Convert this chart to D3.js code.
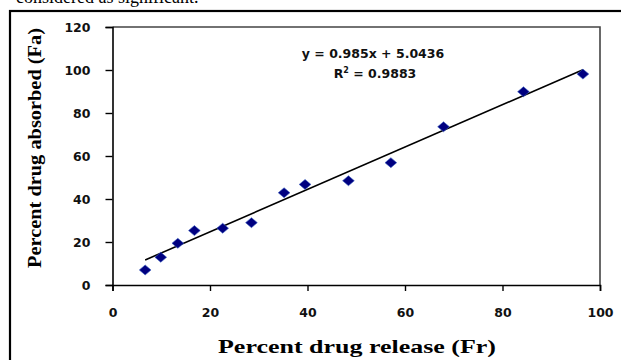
<!DOCTYPE html>
<html>
<head>
<meta charset="utf-8">
<script src="https://cdn.jsdelivr.net/npm/d3@7"></script>
<style>
  body { margin: 0; background: #fff; }
  svg { display: block; }
</style>
</head>
<body>
<svg id="chart" width="621" height="360"></svg>
<script>
// values
const releaseFr  = [6.7, 9.9, 13.4, 16.8, 22.6, 28.5, 35.2, 39.5, 48.4, 57.1, 67.9, 84.3, 96.5];
const absorbedFa = [7.0, 12.9, 19.4, 25.3, 26.4, 29.0, 42.9, 46.8, 48.5, 56.9, 73.6, 89.9, 98.1];
const xTicks = [0, 20, 40, 60, 80, 100];
const yTicks = [0, 20, 40, 60, 80, 100, 120];
const slope = 0.985;
const intercept = 5.0436;
const eqLabel = "y = 0.985x + 5.0436";
const r2Value = "0.9883";

const svg = d3.select("#chart");

const x = d3.scaleLinear().domain([0, 100]).range([112.5, 600]);
const y = d3.scaleLinear().domain([0, 120]).range([285, 27]);

// text cut off at the top of the page, as in the source
svg.append("text")
    .attr("x", 16).attr("y", 3)
    .style("font-family", "Liberation Serif, serif")
    .style("font-size", "18px")
    .text("considered as significant.");

// outer frame (right and bottom run off the page)
svg.append("rect")
    .attr("x", 10).attr("y", 11)
    .attr("width", 640).attr("height", 400)
    .attr("fill", "none")
    .attr("stroke", "#000")
    .attr("stroke-width", 2.2);

// plot area top / right border
svg.append("path")
    .attr("d", `M${x(0)},${y(120)} H${x(100)} V${y(0)}`)
    .attr("fill", "none")
    .attr("stroke", "#444")
    .attr("stroke-width", 1.6);

const tickFont = "DejaVu Sans, sans-serif";

const xAxis = svg.append("g")
    .attr("transform", `translate(0,${y(0)})`)
    .call(d3.axisBottom(x).tickValues(xTicks).tickSize(6).tickPadding(17));
const yAxis = svg.append("g")
    .attr("transform", `translate(${x(0)},0)`)
    .call(d3.axisLeft(y).tickValues(yTicks).tickSize(7).tickPadding(15));

[xAxis, yAxis].forEach(g => {
    g.select(".domain").attr("stroke", "#000").attr("stroke-width", 1.6);
    g.selectAll(".tick line").attr("stroke", "#000").attr("stroke-width", 1.4);
    g.selectAll(".tick text")
        .attr("fill", "#111")
        .style("font-family", tickFont)
        .style("font-weight", "bold")
        .style("font-size", "12.5px");
});
yAxis.selectAll(".tick text").attr("dy", "0.35em");

// trend line
svg.append("line")
    .attr("x1", x(d3.min(releaseFr))).attr("y1", y(slope * d3.min(releaseFr) + intercept))
    .attr("x2", x(d3.max(releaseFr))).attr("y2", y(slope * d3.max(releaseFr) + intercept))
    .attr("stroke", "#000")
    .attr("stroke-width", 1.6);

// diamond markers
const points = releaseFr.map((v, i) => ({fr: v, fa: absorbedFa[i]}));
svg.selectAll("path.pt")
    .data(points)
    .enter()
    .append("path")
    .attr("class", "pt")
    .attr("d", d3.symbol(d3.symbolSquare, 52)())
    .attr("transform", d => `translate(${x(d.fr)},${y(d.fa)}) scale(1.15,0.98) rotate(45)`)
    .attr("fill", "#000080")
    .attr("stroke", "#3a5fc0")
    .attr("stroke-width", 0.5);

// equation
svg.append("text")
    .attr("x", 373).attr("y", 58)
    .attr("text-anchor", "middle")
    .style("font-family", tickFont)
    .style("font-weight", "bold")
    .style("font-size", "12.5px")
    .attr("fill", "#111")
    .text(eqLabel);
const r2 = svg.append("text")
    .attr("x", 375).attr("y", 78)
    .attr("text-anchor", "middle")
    .style("font-family", tickFont)
    .style("font-weight", "bold")
    .style("font-size", "12.5px")
    .attr("fill", "#111");
r2.append("tspan").text("R");
r2.append("tspan").attr("dy", -5).style("font-size", "8px").text("2");
r2.append("tspan").attr("dy", 5).text(" = " + r2Value);

// axis titles
svg.append("text")
    .attr("x", 357).attr("y", 353)
    .attr("text-anchor", "middle")
    .attr("textLength", 278)
    .attr("lengthAdjust", "spacingAndGlyphs")
    .style("font-family", "Liberation Serif, serif")
    .style("font-weight", "bold")
    .style("font-size", "19px")
    .text("Percent drug release (Fr)");

svg.append("text")
    .attr("transform", "translate(41,148) rotate(-90)")
    .attr("text-anchor", "middle")
    .attr("textLength", 240)
    .attr("lengthAdjust", "spacingAndGlyphs")
    .style("font-family", "Liberation Serif, serif")
    .style("font-weight", "bold")
    .style("font-size", "18px")
    .text("Percent drug absorbed (Fa)");
</script>
</body>
</html>
